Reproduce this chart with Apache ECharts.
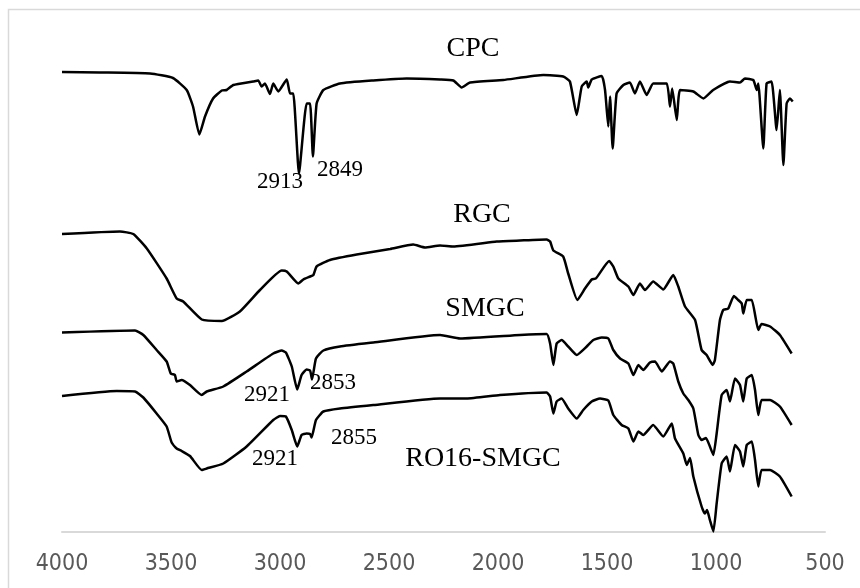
<!DOCTYPE html>
<html>
<head>
<meta charset="utf-8">
<title>FTIR</title>
<script src="https://cdn.jsdelivr.net/npm/echarts@6/dist/echarts.min.js"></script>
<style>
    html, body { margin: 0; padding: 0; background: #fff; }
    #ftir { width: 860px; height: 588px; }
</style>
</head>
<body>
<div id="ftir"></div>
<script>
// wavenumber (cm-1) / transmittance (a.u., stacked) pairs
const xTicks = [4000, 3500, 3000, 2500, 2000, 1500, 1000, 500];

const cpc = [
    [4000, 92.0], [3826, 91.9], [3596, 91.7], [3491, 90.8], [3428, 88.4], [3399, 85.1], [3370, 79.5],
    [3344, 83.1], [3307, 86.7], [3267, 88.3], [3245, 88.4], [3214, 89.4], [3123, 90.1], [3100, 90.3],
    [3084, 89.1], [3069, 89.7], [3046, 87.6], [3031, 89.7], [3008, 88.1], [2969, 90.5], [2954, 87.7],
    [2939, 87.7], [2913, 71.7], [2878, 85.7], [2862, 85.7], [2849, 75.1], [2832, 85.7], [2801, 88.4],
    [2725, 89.7], [2572, 90.3], [2419, 90.7], [2266, 90.5], [2205, 90.3], [2167, 88.9], [2128, 89.9],
    [1976, 90.4], [1792, 91.4], [1701, 91.1], [1670, 90.1], [1639, 83.4], [1616, 89.1], [1593, 90.1],
    [1586, 88.9], [1570, 90.5], [1524, 91.2], [1509, 88.4], [1494, 81.1], [1486, 87.1], [1474, 76.7],
    [1456, 87.7], [1425, 89.4], [1395, 89.9], [1372, 87.7], [1349, 90.1], [1318, 87.4], [1288, 89.7],
    [1226, 89.7], [1211, 85.1], [1201, 88.7], [1180, 82.4], [1165, 88.4], [1104, 88.1], [1058, 86.7],
    [1013, 88.4], [936, 90.1], [890, 89.9], [867, 90.7], [829, 90.4], [813, 88.4], [806, 89.7],
    [783, 76.7], [768, 89.7], [745, 90.1], [722, 80.4], [707, 88.4], [691, 73.4], [676, 85.7],
    [661, 86.7], [648, 86.1]
];

const rgc = [
    [4000, 59.6], [3734, 60.1], [3673, 59.6], [3611, 56.7], [3520, 50.7], [3474, 46.7], [3444, 46.1],
    [3359, 42.5], [3267, 42.2], [3184, 44.1], [3092, 48.4], [2992, 52.3], [2969, 52.1], [2916, 49.7],
    [2893, 50.5], [2862, 51.1], [2847, 51.4], [2832, 53.1], [2771, 54.4], [2648, 55.5], [2495, 56.6],
    [2389, 57.5], [2335, 56.9], [2266, 57.3], [2205, 57.1], [2006, 58.1], [1899, 58.3], [1777, 58.5],
    [1761, 58.1], [1746, 56.3], [1701, 55.1], [1678, 51.7], [1636, 46.4], [1601, 48.7], [1570, 50.5],
    [1551, 50.7], [1490, 54.2], [1471, 53.1], [1448, 50.7], [1402, 49.1], [1379, 47.4], [1349, 49.7],
    [1326, 48.4], [1288, 50.1], [1242, 48.5], [1196, 51.4], [1173, 49.1], [1142, 45.1], [1096, 42.4],
    [1066, 36.4], [1043, 35.4], [1015, 33.4], [1005, 34.4], [982, 42.4], [967, 44.4], [944, 44.7],
    [918, 47.2], [898, 46.4], [882, 45.7], [875, 43.7], [859, 46.4], [836, 46.4], [806, 40.4],
    [791, 41.6], [752, 41.1], [707, 39.4], [653, 35.7]
];

const smgc = [
    [4000, 39.9], [3665, 40.3], [3627, 39.4], [3566, 36.4], [3520, 34.1], [3501, 31.7], [3482, 31.4],
    [3474, 30.1], [3451, 30.4], [3413, 29.4], [3359, 27.4], [3336, 28.1], [3260, 29.1], [3153, 32.1],
    [3031, 35.7], [2992, 36.3], [2973, 35.9], [2946, 33.1], [2921, 28.5], [2901, 31.4], [2878, 32.5],
    [2862, 32.3], [2853, 30.5], [2835, 34.7], [2801, 36.3], [2725, 37.1], [2572, 37.9], [2266, 39.4],
    [2174, 38.7], [1899, 39.4], [1777, 39.6], [1761, 37.7], [1746, 33.4], [1731, 37.7], [1708, 38.4],
    [1678, 37.1], [1639, 35.4], [1593, 37.1], [1563, 38.4], [1524, 38.9], [1494, 38.7], [1471, 36.4],
    [1440, 34.7], [1402, 33.7], [1379, 31.4], [1356, 33.4], [1334, 32.4], [1303, 33.9], [1280, 34.1],
    [1249, 32.1], [1211, 34.1], [1196, 33.7], [1173, 30.1], [1150, 27.7], [1127, 26.4], [1104, 24.7],
    [1081, 19.4], [1066, 18.4], [1046, 18.8], [1028, 17.1], [1012, 15.4], [997, 19.7], [974, 27.4],
    [951, 28.4], [936, 26.1], [913, 30.7], [890, 29.4], [875, 26.1], [859, 30.7], [836, 31.4],
    [821, 28.4], [806, 23.4], [791, 26.4], [752, 26.4], [707, 25.1], [653, 21.4]
];

const ro16smgc = [
    [4000, 27.2], [3749, 28.2], [3665, 28.1], [3627, 26.9], [3566, 23.7], [3520, 21.1], [3497, 17.9],
    [3474, 16.7], [3451, 16.2], [3413, 15.2], [3359, 12.4], [3336, 12.7], [3260, 13.7], [3153, 17.1],
    [3031, 22.4], [3000, 23.2], [2973, 23.1], [2946, 20.4], [2921, 17.1], [2901, 19.4], [2878, 19.7],
    [2862, 19.6], [2855, 18.9], [2835, 22.4], [2801, 24.1], [2725, 24.7], [2572, 25.4], [2266, 26.7],
    [2144, 26.7], [1991, 27.4], [1777, 27.9], [1761, 27.1], [1746, 23.7], [1731, 26.1], [1708, 26.7],
    [1678, 24.7], [1639, 22.7], [1609, 24.4], [1570, 26.1], [1532, 26.7], [1494, 26.3], [1471, 23.4],
    [1433, 21.4], [1402, 20.7], [1379, 18.1], [1356, 20.1], [1334, 19.4], [1288, 21.4], [1242, 19.1],
    [1203, 21.7], [1188, 18.7], [1150, 15.7], [1134, 13.4], [1119, 14.8], [1104, 11.1], [1066, 5.1],
    [1051, 3.7], [1041, 4.4], [1028, 2.4], [1012, 0.1], [997, 5.7], [974, 13.7], [951, 15.1],
    [936, 12.1], [913, 17.4], [890, 16.1], [875, 13.1], [859, 17.4], [836, 18.1], [821, 14.4],
    [806, 9.1], [791, 12.4], [752, 12.4], [707, 11.1], [653, 7.1]
];

const seriesNames = ['CPC', 'RGC', 'SMGC', 'RO16-SMGC'];

const serif = '"Liberation Serif", "Times New Roman", serif';
const tickFont = '"Liberation Sans Narrow", "DejaVu Sans Condensed", sans-serif';

// 注释文字 (sample names + peak positions)
function note(text, x, y, size) {
    return {
        type: 'text', x: x, y: y, z: 10,
        style: {
            text: text, fill: '#000', font: size + 'px ' + serif,
            textAlign: 'center', textVerticalAlign: 'middle'
        }
    };
}

function lineSeries(name, data) {
    return {
        name: name,
        type: 'line',
        data: data,
        showSymbol: false,
        smooth: 0.15,
        lineStyle: { color: '#000', width: 2.5 },
        emphasis: { disabled: true }
    };
}

const chart = echarts.init(document.getElementById('ftir'));
chart.setOption({
    animation: false,
    backgroundColor: '#fff',
    grid: { left: 62, right: 35, top: 32, bottom: 56 },
    xAxis: {
        type: 'value',
        min: 500,
        max: 4000,
        interval: 500,
        inverse: true,
        axisLine: { show: true, onZero: false, lineStyle: { color: '#d9d9d9', width: 2 } },
        axisTick: { show: false },
        splitLine: { show: false },
        axisLabel: {
            color: '#595959', fontSize: 23, fontFamily: tickFont, margin: 21,
            formatter: v => (xTicks.indexOf(v) >= 0 ? String(v) : '')
        }
    },
    yAxis: {
        type: 'value',
        min: 0,
        max: 100,
        show: false
    },
    series: [
        lineSeries(seriesNames[0], cpc),
        lineSeries(seriesNames[1], rgc),
        lineSeries(seriesNames[2], smgc),
        lineSeries(seriesNames[3], ro16smgc)
    ],
    graphic: [
        {
            type: 'rect', z: 0, silent: true,
            shape: { x: 8.5, y: 9.5, width: 900, height: 700 },
            style: { fill: 'none', stroke: '#d9d9d9', lineWidth: 1.5 }
        },
        note('CPC', 473, 49, 28),
        note('RGC', 482, 215, 28),
        note('SMGC', 485, 309, 28),
        note('RO16-SMGC', 483, 459, 28),
        note('2913', 280, 182, 23),
        note('2849', 340, 170, 23),
        note('2921', 267, 395, 23),
        note('2853', 333, 383, 23),
        note('2921', 275, 459, 23),
        note('2855', 354, 438, 23)
    ]
});
</script>
</body>
</html>
